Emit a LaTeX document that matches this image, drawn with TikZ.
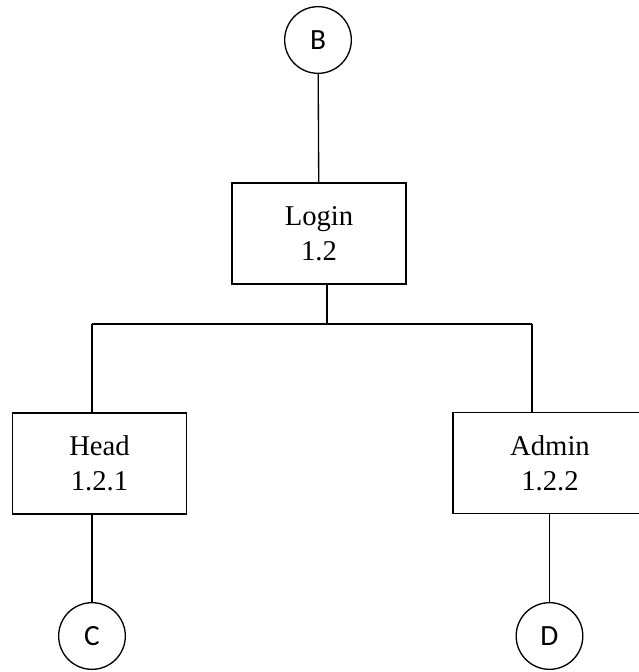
\documentclass[tikz,border=0pt]{standalone}
\usepackage{fontspec}
\setmainfont{Liberation Serif}
\newfontfamily\circfont{Carlito}
\usepackage{tikz}

\begin{document}
\begin{tikzpicture}[x=0.75pt,y=-0.75pt,
    box/.style={draw,line width=1.2pt,minimum width=130.5pt,minimum height=75.75pt,align=center,font=\fontsize{21.5}{26}\selectfont},
    conn/.style={draw,circle,line width=1pt,minimum size=50pt,inner sep=0pt,font=\circfont\fontsize{22}{26}\selectfont},
    link/.style={line width=1pt}]%
          \useasboundingbox (0,0) rectangle (639,672);%
          \node [conn] (B) at (318,40) {B};%
          \node [box] (Login) at (319,233.5) {Login\\1.2};%
          \node [box] (Head) at (99.5,463.5) {Head\\1.2.1};%
          \node [box,minimum width=145.5pt] (Admin) at (550,463) {Admin\\1.2.2};%
          \node [conn] (C) at (92,636) {C};%
          \node [conn] (D) at (549.5,636) {D};%
          \coordinate (J) at (327,324);%
          \coordinate (JL) at (92,324);%
          \coordinate (JR) at (532,324);%
          \draw [link] (B) to (Login);%
          \draw [link] (Login.south -| J) to (J);%
          \draw [link] (JL) to (JR);%
          \draw [link] (JL) to (JL |- Head.north);%
          \draw [link] (JR) to (JR |- Admin.north);%
          \draw [link] (Head.south -| C) to (C);%
          \draw [link] (Admin.south -| D) to (D);%
        \end{tikzpicture}
\end{document}
